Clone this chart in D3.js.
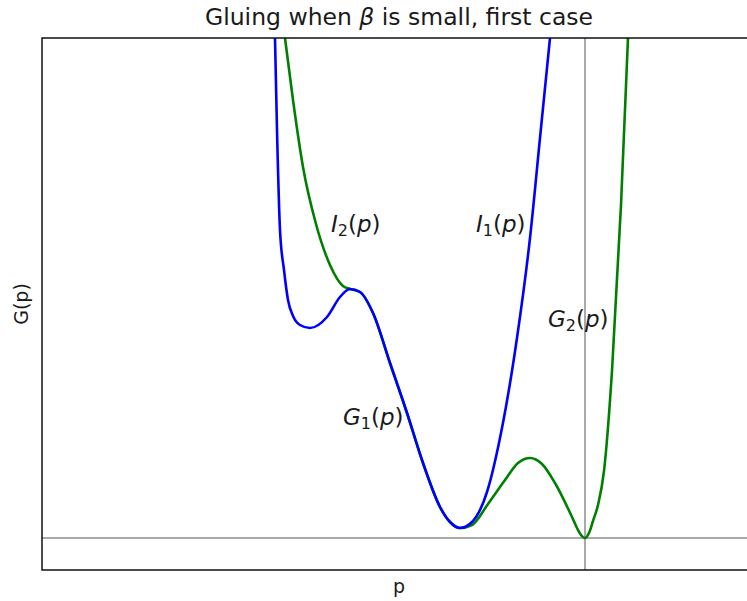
<!DOCTYPE html>
<html>
<head>
<meta charset="utf-8">
<script src="https://cdn.jsdelivr.net/npm/d3@7"></script>
<style>
  body { margin: 0; background: white; }
  text { font-family: "DejaVu Sans", sans-serif; }
</style>
</head>
<body>
<svg class="graph"></svg>
<script>
// curve points (p, G)
var blue_p = [-3.10, -3.08, -3.05, -3.01, -2.97, -2.92, -2.85, -2.75, -2.58, -2.45, -2.35, -2.25, -2.12, -1.95, -1.78, -1.62, -1.45, -1.35, -1.25, -1.13, -0.98, -0.85, -0.68, -0.55, -0.45, -0.35]
var blue_g = [5.00, 4.08, 3.08, 2.68, 2.38, 2.22, 2.13, 2.10, 2.21, 2.41, 2.49, 2.46, 2.25, 1.75, 1.25, 0.75, 0.31, 0.16, 0.10, 0.16, 0.46, 1.00, 2.00, 3.00, 4.00, 5.00]

var green_p = [-3.00, -2.92, -2.82, -2.69, -2.55, -2.42, -2.35, -2.25, -2.12, -1.95, -1.78, -1.62, -1.45, -1.35, -1.25, -1.13, -0.97, -0.80, -0.67, -0.55, -0.43, -0.30, -0.13, -0.08, -0.04, 0.00, 0.04, 0.08, 0.13, 0.19, 0.27, 0.36, 0.43]
var green_g = [5.00, 4.38, 3.71, 3.14, 2.73, 2.52, 2.49, 2.46, 2.25, 1.75, 1.25, 0.75, 0.31, 0.16, 0.10, 0.13, 0.34, 0.58, 0.75, 0.80, 0.74, 0.55, 0.21, 0.10, 0.03, 0.00, 0.05, 0.17, 0.33, 0.67, 1.67, 3.33, 5.00]

var labels = [
    { "name": "I", "sub": "2", "p": -2.54, "g": 3.06 },
    { "name": "I", "sub": "1", "p": -1.09, "g": 3.06 },
    { "name": "G", "sub": "2", "p": -0.37, "g": 2.11 },
    { "name": "G", "sub": "1", "p": -2.42, "g": 1.13 }
]

var p_domain = [-5.43, 1.71]
var g_domain = [-0.32, 5.00]
var p_line = 0
var g_line = 0

var width = 747, height = 601
var margin = { top: 38, right: -9, bottom: 31, left: 42 }

var svg = d3.select(".graph")
    .attr("width", width)
    .attr("height", height)

var x = d3.scaleLinear().domain(p_domain).range([margin.left, width - margin.right])
var y = d3.scaleLinear().domain(g_domain).range([height - margin.bottom, margin.top])

svg.append("clipPath").attr("id", "clip")
    .append("rect")
    .attr("x", x.range()[0])
    .attr("y", y.range()[1])
    .attr("width", x.range()[1] - x.range()[0])
    .attr("height", y.range()[0] - y.range()[1])

var plot = svg.append("g").attr("clip-path", "url(#clip)")

// reference lines
plot.append("line")
    .attr("x1", x.range()[0]).attr("x2", x.range()[1])
    .attr("y1", y(g_line)).attr("y2", y(g_line))
    .attr("stroke", "#555").attr("stroke-width", 1)
plot.append("line")
    .attr("x1", x(p_line)).attr("x2", x(p_line))
    .attr("y1", y.range()[0]).attr("y2", y.range()[1])
    .attr("stroke", "#555").attr("stroke-width", 1)

var line = d3.line()
    .x((d) => { return x(d[0]) })
    .y((d) => { return y(d[1]) })
    .curve(d3.curveMonotoneX)

plot.append("path")
    .attr("d", line(d3.zip(green_p, green_g)))
    .attr("fill", "none")
    .attr("stroke", "#008000")
    .attr("stroke-width", 2.6)

plot.append("path")
    .attr("d", line(d3.zip(blue_p, blue_g)))
    .attr("fill", "none")
    .attr("stroke", "#0000ff")
    .attr("stroke-width", 2.6)

// frame
svg.append("rect")
    .attr("x", x.range()[0])
    .attr("y", y.range()[1])
    .attr("width", x.range()[1] - x.range()[0])
    .attr("height", y.range()[0] - y.range()[1])
    .attr("fill", "none")
    .attr("stroke", "black")
    .attr("stroke-width", 1.4)

// curve labels
var label_figure = svg.selectAll(".curve_label")
    .data(labels)
    .enter().append("text")
    .attr("class", "curve_label")
    .attr("x", (d) => { return x(d.p) })
    .attr("y", (d) => { return y(d.g) })
    .style("font-size", "23px")
    .style("fill", "#1a1a1a")

label_figure.append("tspan").style("font-style", "italic").text((d) => { return d.name })
label_figure.append("tspan").style("font-size", "16px").attr("dy", 4).text((d) => { return d.sub })
label_figure.append("tspan").attr("dy", -4).text("(")
label_figure.append("tspan").style("font-style", "italic").text("p")
label_figure.append("tspan").text(")")

// title and axis labels
var cx = (x.range()[0] + x.range()[1]) / 2
var title = svg.append("text")
    .attr("x", cx)
    .attr("y", 25)
    .attr("text-anchor", "middle")
    .style("font-size", "23.5px")
    .style("fill", "#1a1a1a")
title.append("tspan").text("Gluing when ")
title.append("tspan").style("font-style", "italic").text("β")
title.append("tspan").text(" is small, first case")

svg.append("text")
    .attr("x", cx)
    .attr("y", 593)
    .attr("text-anchor", "middle")
    .style("font-size", "19px")
    .style("fill", "#1a1a1a")
    .text("p")

svg.append("text")
    .attr("transform", "translate(28," + ((y.range()[0] + y.range()[1]) / 2) + ") rotate(-90)")
    .attr("text-anchor", "middle")
    .style("font-size", "19px")
    .style("fill", "#1a1a1a")
    .text("G(p)")
</script>
</body>
</html>
